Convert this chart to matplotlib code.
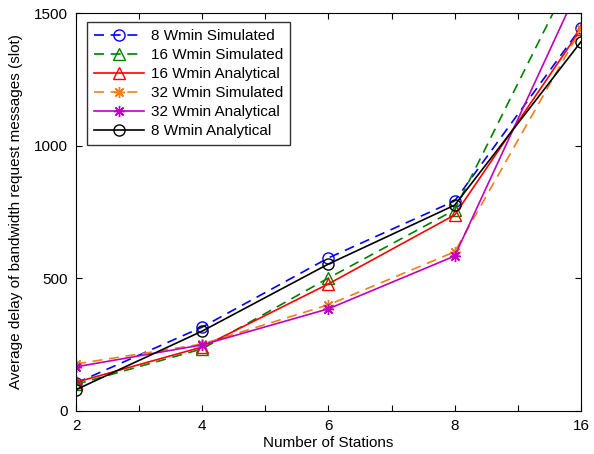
import matplotlib
matplotlib.use("Agg")
import matplotlib.pyplot as plt
import numpy as np

plt.rcParams['font.family'] = ['Liberation Sans', 'DejaVu Sans']

stations = ['2', '4', '6', '8', '16']
sim_8 = [105, 316, 577, 792, 1445]
sim_16 = [100, 234, 501, 758, 1711]
ana_16 = [108, 241, 479, 739, 1440]
sim_32 = [177, 252, 400, 600, 1440]
ana_32 = [166, 249, 385, 584, 1615]
ana_8 = [80, 301, 554, 776, 1392]

fig = plt.figure(figsize=(5.94, 4.54), dpi=100)
ax = fig.add_axes([0.128, 0.095, 0.85, 0.876])
x = np.arange(len(stations))

orange = (0.93, 0.5, 0.1)
green = (0.0, 0.5, 0.0)
ms = 8
dash = (0, (6, 4))
ax.plot(x, sim_8, color='blue', linestyle=dash, marker='o', mfc='none', ms=ms, lw=1.2, label='8 Wmin Simulated')
ax.plot(x, sim_16, color=green, linestyle=dash, marker='^', mfc='none', ms=ms, lw=1.2, label='16 Wmin Simulated')
ax.plot(x, ana_16, color='red', linestyle='-', marker='^', mfc='none', ms=ms, lw=1.2, label='16 Wmin Analytical')
ax.plot(x, sim_32, color=orange, linestyle=dash, marker=(8, 2, 0), ms=ms, lw=1.2, label='32 Wmin Simulated')
ax.plot(x, ana_32, color='m', linestyle='-', marker=(8, 2, 0), ms=ms, lw=1.2, label='32 Wmin Analytical')
ax.plot(x, ana_8, color='black', linestyle='-', marker='o', mfc='none', ms=ms, lw=1.2, label='8 Wmin Analytical')

ax.set_xlim(0, 4)
ax.set_ylim(0, 1500)
ax.set_xticks(np.arange(0, 4.01, 0.5))
ax.set_xticklabels(['2', '', '4', '', '6', '', '8', '', '16'])
ax.set_yticks([0, 500, 1000, 1500])
ax.tick_params(direction='in', top=True, right=True, labelsize=11, length=4, pad=6)
ax.set_xlabel('Number of Stations', fontsize=11, labelpad=2)
ax.set_ylabel('Average delay of bandwidth request messages (slot)', fontsize=11, labelpad=8)

leg = ax.legend(loc='upper left', fontsize=11, frameon=True, fancybox=False,
                edgecolor='black', handlelength=3.3, borderpad=0.45, labelspacing=0.33,
                handletextpad=0.4, borderaxespad=0, bbox_to_anchor=(0.022, 0.977))
leg.get_frame().set_linewidth(1.0)

fig.savefig('out.png', dpi=100)
